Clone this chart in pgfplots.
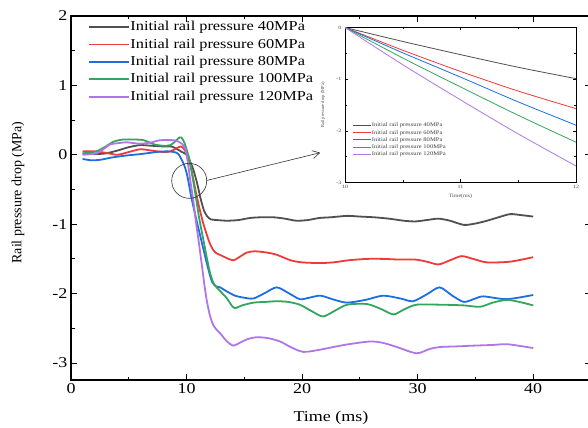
\documentclass[border=0pt]{standalone}
\usepackage{pgfplots}
\pgfplotsset{compat=1.18}
\usepackage{fontspec}
\setmainfont{Liberation Serif}[FakeStretch=1.2]
\newfontfamily\plainserif{Liberation Serif}
\usetikzlibrary{arrows.meta}

\definecolor{cgray}{RGB}{80,80,80}
\definecolor{cred}{RGB}{238,58,58}
\definecolor{cblue}{RGB}{30,110,225}
\definecolor{cgreen}{RGB}{52,165,95}
\definecolor{cpurple}{RGB}{176,118,232}

\begin{document}
\begin{tikzpicture}
% ---------------- main axis ----------------
\begin{axis}[
  name=main, at={(0,0)}, anchor=south west, scale only axis,
  width=520bp, height=364bp,
  xmin=0, xmax=45, ymin=-3.245, ymax=2,
  xtick={0,10,20,30,40}, xticklabels={0,10,20,30,40},
  minor xtick={5,15,25,35,45},
  ytick={-3,-2,-1,0,1,2}, yticklabels={-3,-2,-1,0,1,2},
  minor ytick={-2.5,-1.5,-0.5,0.5,1.5},
  tick align=inside,
  major tick length=6bp, minor tick length=3.5bp,
  every tick/.style={black, line width=0.8bp},
  axis line style={line width=1.2bp},
  ticklabel style={font=\fontsize{15bp}{17bp}\selectfont},
  xlabel={Time (ms)},
  ylabel={Rail pressure drop (MPa)},
  xlabel style={font=\fontsize{15bp}{17bp}\selectfont, at={(axis description cs:0.5,0)}, anchor=center, yshift=-38bp},
  ylabel style={font=\plainserif\fontsize{14bp}{16bp}\selectfont, at={(axis description cs:0,0.515)}, anchor=center, yshift=53bp},
  legend style={at={(0,1)}, anchor=north west, xshift=14bp, yshift=-2bp,
    draw=none, fill=none, font=\fontsize{13.6bp}{15bp}\selectfont,
    nodes={inner sep=0.5bp, text height=10bp, text depth=3bp}, row sep=3.4bp},
  legend cell align=left,
  legend image code/.code={\draw[#1, line width=1.8bp] (0bp,0bp) -- (40bp,0bp);},
  every axis plot/.append style={line width=1.8bp, smooth, tension=0.45},
]
\addplot[cgray] coordinates {(1.0,0.02)(2.0,0.01)(3.0,0.02)(4.0,0.06)(5.0,0.11)(6.0,0.14)(7.0,0.13)(8.0,0.12)(8.7,0.12)(9.2,0.08)(9.6,0.04)(10.0,0.0)(10.5,-0.17)(10.9,-0.40)(11.2,-0.62)(11.5,-0.80)(11.8,-0.89)(12.1,-0.93)(12.6,-0.94)(13.5,-0.95)(14.5,-0.94)(15.5,-0.91)(16.5,-0.90)(17.5,-0.90)(18.5,-0.92)(19.5,-0.95)(20.5,-0.94)(21.5,-0.91)(22.5,-0.90)(23.9,-0.88)(25.0,-0.89)(26.2,-0.90)(27.5,-0.92)(28.8,-0.95)(29.8,-0.96)(30.8,-0.94)(31.8,-0.92)(32.8,-0.95)(34.0,-1.01)(35.0,-0.99)(36.0,-0.95)(37.0,-0.90)(38.0,-0.855)(39.0,-0.87)(40.0,-0.89)};
\addlegendentry{Initial rail pressure 40MPa}
\addplot[cred] coordinates {(1.0,0.05)(2.0,0.05)(3.0,0.03)(4.0,0.00)(5.0,0.04)(6.0,0.08)(7.0,0.06)(8.0,0.04)(8.6,0.05)(9.1,0.09)(9.5,0.12)(9.8,0.08)(10.1,-0.03)(10.4,-0.20)(10.7,-0.45)(10.95,-0.65)(11.2,-0.83)(11.45,-0.99)(11.75,-1.15)(12.0,-1.27)(12.3,-1.37)(12.6,-1.42)(13.0,-1.45)(13.5,-1.49)(14.05,-1.52)(14.6,-1.47)(15.2,-1.41)(15.9,-1.39)(17.0,-1.41)(17.8,-1.44)(19.0,-1.52)(20.0,-1.55)(21.5,-1.56)(22.7,-1.55)(24.0,-1.52)(25.6,-1.50)(27.0,-1.50)(28.5,-1.51)(29.8,-1.51)(30.8,-1.54)(31.8,-1.58)(32.8,-1.52)(33.8,-1.46)(34.8,-1.50)(36.0,-1.55)(38.0,-1.54)(40.0,-1.475)};
\addlegendentry{Initial rail pressure 60MPa}
\addplot[cblue] coordinates {(1.0,-0.06)(1.8,-0.08)(2.6,-0.07)(3.5,-0.04)(4.8,-0.01)(6.0,0.01)(7.4,0.04)(8.3,0.05)(8.9,0.04)(9.3,0.01)(9.8,-0.15)(10.1,-0.33)(10.4,-0.60)(10.8,-0.90)(11.2,-1.18)(11.75,-1.56)(12.2,-1.83)(12.6,-1.90)(12.9,-1.91)(13.5,-1.97)(14.2,-2.03)(15.0,-2.06)(15.8,-2.07)(16.8,-1.99)(17.8,-1.91)(18.8,-1.99)(19.8,-2.08)(20.6,-2.06)(21.6,-2.03)(22.8,-2.09)(23.9,-2.13)(25.5,-2.09)(27.0,-2.03)(28.5,-2.07)(29.6,-2.11)(30.8,-2.01)(31.9,-1.91)(33.0,-2.03)(34.0,-2.12)(35.0,-2.07)(35.7,-2.04)(37.7,-2.08)(40.0,-2.02)};
\addlegendentry{Initial rail pressure 80MPa}
\addplot[cgreen] coordinates {(1.0,0.02)(2.2,0.05)(3.0,0.12)(3.7,0.19)(4.5,0.22)(5.5,0.22)(6.3,0.21)(7.2,0.15)(8.0,0.13)(8.6,0.14)(9.0,0.19)(9.3,0.24)(9.55,0.25)(9.8,0.18)(10.05,0.05)(10.3,-0.10)(10.55,-0.35)(10.8,-0.60)(11.1,-0.92)(11.45,-1.22)(11.75,-1.48)(12.0,-1.68)(12.3,-1.84)(12.6,-1.91)(13.0,-1.98)(13.5,-2.07)(13.9,-2.17)(14.2,-2.21)(14.8,-2.17)(15.8,-2.13)(16.8,-2.12)(17.8,-2.11)(18.8,-2.12)(19.8,-2.16)(20.8,-2.25)(21.8,-2.33)(22.8,-2.25)(23.9,-2.16)(25.6,-2.15)(26.8,-2.22)(27.9,-2.30)(28.8,-2.23)(29.9,-2.16)(32.0,-2.16)(34.0,-2.17)(35.4,-2.19)(36.5,-2.13)(37.7,-2.09)(38.8,-2.12)(40.0,-2.17)};
\addlegendentry{Initial rail pressure 100MPa}
\addplot[cpurple] coordinates {(1.0,0.00)(2.2,0.02)(2.8,0.08)(3.4,0.15)(4.2,0.17)(4.8,0.18)(6.0,0.16)(7.0,0.18)(7.7,0.21)(8.9,0.21)(9.3,0.19)(9.6,0.16)(9.9,0.08)(10.1,-0.10)(10.35,-0.40)(10.6,-0.68)(10.8,-0.95)(11.05,-1.25)(11.3,-1.56)(11.55,-1.88)(11.75,-2.10)(12.0,-2.30)(12.3,-2.45)(12.6,-2.52)(13.0,-2.59)(13.5,-2.69)(14.05,-2.75)(14.6,-2.71)(15.2,-2.66)(16.0,-2.63)(17.0,-2.64)(18.1,-2.69)(19.0,-2.77)(20.1,-2.84)(21.5,-2.81)(22.7,-2.77)(24.0,-2.73)(25.9,-2.69)(27.0,-2.71)(28.2,-2.77)(29.9,-2.86)(31.0,-2.80)(31.9,-2.77)(33.5,-2.76)(34.8,-2.75)(36.5,-2.74)(37.8,-2.73)(40.0,-2.785)};
\addlegendentry{Initial rail pressure 120MPa}
% magnifier circle and pointer to the detail view
\draw[line width=0.6bp, black!80] (axis cs:10.23,-0.375) circle[radius=17.5bp];
\draw[line width=0.6bp, black!80, -{Straight Barb[length=7bp,width=8bp]}] (axis cs:11.745,-0.37) -- (axis cs:21.56,0.03);
\end{axis}

% ---------------- detail view 10-12 ms ----------------
\begin{axis}[
  at={(274bp,197.5bp)}, anchor=south west, scale only axis,
  width=231bp, height=155bp,
  xmin=10, xmax=12, ymin=-3, ymax=0,
  axis background/.style={fill=white},
  xtick={10,11,12}, xticklabels={10,11,12},
  ytick={-3,-2,-1,0}, yticklabels={-3,-2,-1,0},
  minor xtick={10.5,11.5}, minor ytick={-2.5,-1.5,-0.5},
  tick align=inside,
  major tick length=3bp, minor tick length=2bp,
  every tick/.style={black, line width=0.5bp},
  axis line style={line width=0.6bp},
  ticklabel style={font=\fontsize{5bp}{6bp}\selectfont, text=black!70},
  xticklabel style={yshift=1bp},
  xlabel={Time(ms)},
  ylabel={Rail pressure drop (MPa)},
  xlabel style={font=\fontsize{5bp}{6bp}\selectfont, text=black!70, at={(axis description cs:0.5,0)}, anchor=center, yshift=-13.5bp},
  ylabel style={font=\plainserif\fontsize{4.5bp}{5bp}\selectfont, text=black!70, at={(axis description cs:0,0.5)}, anchor=center, yshift=22bp},
  legend style={at={(0.02,0.15)}, anchor=south west,
    draw=none, fill=none, font=\fontsize{5.5bp}{6bp}\selectfont, text=black!75,
    nodes={inner sep=0.3bp, text height=4bp, text depth=1bp}, row sep=1.6bp},
  legend cell align=left,
  legend image code/.code={\draw[#1, line width=0.8bp] (0bp,0bp) -- (18bp,0bp);},
  every axis plot/.append style={line width=0.8bp, smooth, tension=0.5},
]
\addplot[cgray]   coordinates {(10,0)(10.5,-0.27)(11,-0.525)(11.5,-0.77)(12,-0.99)};
\addlegendentry{Initial rail pressure 40MPa}
\addplot[cred]    coordinates {(10,0)(10.5,-0.44)(11,-0.85)(11.5,-1.23)(12,-1.57)};
\addlegendentry{Initial rail pressure 60MPa}
\addplot[cblue]   coordinates {(10,0)(10.5,-0.49)(11,-0.96)(11.5,-1.44)(12,-1.89)};
\addlegendentry{Initial rail pressure 80MPa}
\addplot[cgreen]  coordinates {(10,0)(10.5,-0.59)(11,-1.15)(11.5,-1.70)(12,-2.22)};
\addlegendentry{Initial rail pressure 100MPa}
\addplot[cpurple] coordinates {(10,0)(10.5,-0.72)(11,-1.40)(11.5,-2.06)(12,-2.68)};
\addlegendentry{Initial rail pressure 120MPa}
\end{axis}

\pgfresetboundingbox
\path[use as bounding box] (-71bp,-48bp) rectangle (517bp,380bp);
\end{tikzpicture}
\end{document}
